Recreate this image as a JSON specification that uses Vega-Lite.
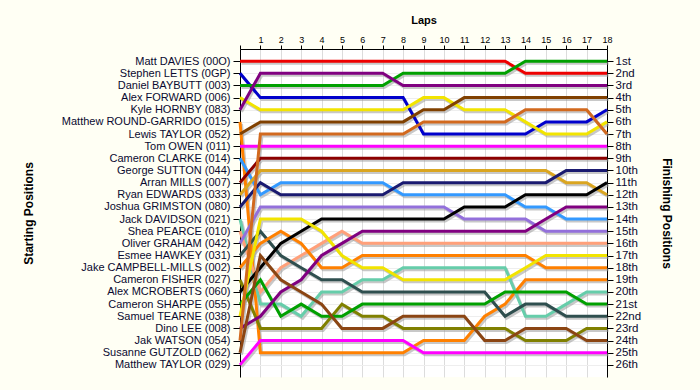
{
"$schema": "https://vega.github.io/schema/vega-lite/v6.json",
"width": 367, "height": 328,
"autosize": "none",
"padding": {"left": 240, "top": 49, "right": 93, "bottom": 13},
"background": "#fffff4",
"config": {"view": {"fill": "#ffffff", "stroke": null}, "font": "Liberation Sans"},
"data": {"values": [
{"start":1,"lap":0,"pos":1},{"start":1,"lap":1,"pos":1},{"start":1,"lap":2,"pos":1},{"start":1,"lap":3,"pos":1},{"start":1,"lap":4,"pos":1},{"start":1,"lap":5,"pos":1},{"start":1,"lap":6,"pos":1},{"start":1,"lap":7,"pos":1},{"start":1,"lap":8,"pos":1},{"start":1,"lap":9,"pos":1},{"start":1,"lap":10,"pos":1},{"start":1,"lap":11,"pos":1},{"start":1,"lap":12,"pos":1},{"start":1,"lap":13,"pos":1},{"start":1,"lap":14,"pos":2},{"start":1,"lap":15,"pos":2},{"start":1,"lap":16,"pos":2},{"start":1,"lap":17,"pos":2},{"start":1,"lap":18,"pos":2},
{"start":2,"lap":0,"pos":2},{"start":2,"lap":1,"pos":4},{"start":2,"lap":2,"pos":4},{"start":2,"lap":3,"pos":4},{"start":2,"lap":4,"pos":4},{"start":2,"lap":5,"pos":4},{"start":2,"lap":6,"pos":4},{"start":2,"lap":7,"pos":4},{"start":2,"lap":8,"pos":4},{"start":2,"lap":9,"pos":7},{"start":2,"lap":10,"pos":7},{"start":2,"lap":11,"pos":7},{"start":2,"lap":12,"pos":7},{"start":2,"lap":13,"pos":7},{"start":2,"lap":14,"pos":7},{"start":2,"lap":15,"pos":6},{"start":2,"lap":16,"pos":6},{"start":2,"lap":17,"pos":6},{"start":2,"lap":18,"pos":5},
{"start":3,"lap":0,"pos":3},{"start":3,"lap":1,"pos":3},{"start":3,"lap":2,"pos":3},{"start":3,"lap":3,"pos":3},{"start":3,"lap":4,"pos":3},{"start":3,"lap":5,"pos":3},{"start":3,"lap":6,"pos":3},{"start":3,"lap":7,"pos":3},{"start":3,"lap":8,"pos":2},{"start":3,"lap":9,"pos":2},{"start":3,"lap":10,"pos":2},{"start":3,"lap":11,"pos":2},{"start":3,"lap":12,"pos":2},{"start":3,"lap":13,"pos":2},{"start":3,"lap":14,"pos":1},{"start":3,"lap":15,"pos":1},{"start":3,"lap":16,"pos":1},{"start":3,"lap":17,"pos":1},{"start":3,"lap":18,"pos":1},
{"start":4,"lap":0,"pos":4},{"start":4,"lap":1,"pos":5},{"start":4,"lap":2,"pos":5},{"start":4,"lap":3,"pos":5},{"start":4,"lap":4,"pos":5},{"start":4,"lap":5,"pos":5},{"start":4,"lap":6,"pos":5},{"start":4,"lap":7,"pos":5},{"start":4,"lap":8,"pos":5},{"start":4,"lap":9,"pos":4},{"start":4,"lap":10,"pos":4},{"start":4,"lap":11,"pos":5},{"start":4,"lap":12,"pos":5},{"start":4,"lap":13,"pos":5},{"start":4,"lap":14,"pos":6},{"start":4,"lap":15,"pos":7},{"start":4,"lap":16,"pos":7},{"start":4,"lap":17,"pos":7},{"start":4,"lap":18,"pos":6},
{"start":5,"lap":0,"pos":5},{"start":5,"lap":1,"pos":2},{"start":5,"lap":2,"pos":2},{"start":5,"lap":3,"pos":2},{"start":5,"lap":4,"pos":2},{"start":5,"lap":5,"pos":2},{"start":5,"lap":6,"pos":2},{"start":5,"lap":7,"pos":2},{"start":5,"lap":8,"pos":3},{"start":5,"lap":9,"pos":3},{"start":5,"lap":10,"pos":3},{"start":5,"lap":11,"pos":3},{"start":5,"lap":12,"pos":3},{"start":5,"lap":13,"pos":3},{"start":5,"lap":14,"pos":3},{"start":5,"lap":15,"pos":3},{"start":5,"lap":16,"pos":3},{"start":5,"lap":17,"pos":3},{"start":5,"lap":18,"pos":3},
{"start":6,"lap":0,"pos":6},{"start":6,"lap":1,"pos":25},{"start":6,"lap":2,"pos":25},{"start":6,"lap":3,"pos":25},{"start":6,"lap":4,"pos":25},{"start":6,"lap":5,"pos":25},{"start":6,"lap":6,"pos":25},{"start":6,"lap":7,"pos":25},{"start":6,"lap":8,"pos":25},{"start":6,"lap":9,"pos":24},{"start":6,"lap":10,"pos":24},{"start":6,"lap":11,"pos":24},{"start":6,"lap":12,"pos":22},{"start":6,"lap":13,"pos":21},{"start":6,"lap":14,"pos":19},{"start":6,"lap":15,"pos":19},{"start":6,"lap":16,"pos":19},{"start":6,"lap":17,"pos":19},{"start":6,"lap":18,"pos":19},
{"start":7,"lap":0,"pos":7},{"start":7,"lap":1,"pos":6},{"start":7,"lap":2,"pos":6},{"start":7,"lap":3,"pos":6},{"start":7,"lap":4,"pos":6},{"start":7,"lap":5,"pos":6},{"start":7,"lap":6,"pos":6},{"start":7,"lap":7,"pos":6},{"start":7,"lap":8,"pos":6},{"start":7,"lap":9,"pos":5},{"start":7,"lap":10,"pos":5},{"start":7,"lap":11,"pos":4},{"start":7,"lap":12,"pos":4},{"start":7,"lap":13,"pos":4},{"start":7,"lap":14,"pos":4},{"start":7,"lap":15,"pos":4},{"start":7,"lap":16,"pos":4},{"start":7,"lap":17,"pos":4},{"start":7,"lap":18,"pos":4},
{"start":8,"lap":0,"pos":8},{"start":8,"lap":1,"pos":8},{"start":8,"lap":2,"pos":8},{"start":8,"lap":3,"pos":8},{"start":8,"lap":4,"pos":8},{"start":8,"lap":5,"pos":8},{"start":8,"lap":6,"pos":8},{"start":8,"lap":7,"pos":8},{"start":8,"lap":8,"pos":8},{"start":8,"lap":9,"pos":8},{"start":8,"lap":10,"pos":8},{"start":8,"lap":11,"pos":8},{"start":8,"lap":12,"pos":8},{"start":8,"lap":13,"pos":8},{"start":8,"lap":14,"pos":8},{"start":8,"lap":15,"pos":8},{"start":8,"lap":16,"pos":8},{"start":8,"lap":17,"pos":8},{"start":8,"lap":18,"pos":8},
{"start":9,"lap":0,"pos":9},{"start":9,"lap":1,"pos":12},{"start":9,"lap":2,"pos":11},{"start":9,"lap":3,"pos":11},{"start":9,"lap":4,"pos":11},{"start":9,"lap":5,"pos":11},{"start":9,"lap":6,"pos":11},{"start":9,"lap":7,"pos":11},{"start":9,"lap":8,"pos":12},{"start":9,"lap":9,"pos":12},{"start":9,"lap":10,"pos":12},{"start":9,"lap":11,"pos":12},{"start":9,"lap":12,"pos":12},{"start":9,"lap":13,"pos":12},{"start":9,"lap":14,"pos":13},{"start":9,"lap":15,"pos":13},{"start":9,"lap":16,"pos":14},{"start":9,"lap":17,"pos":14},{"start":9,"lap":18,"pos":14},
{"start":11,"lap":0,"pos":11},{"start":11,"lap":1,"pos":9},{"start":11,"lap":2,"pos":9},{"start":11,"lap":3,"pos":9},{"start":11,"lap":4,"pos":9},{"start":11,"lap":5,"pos":9},{"start":11,"lap":6,"pos":9},{"start":11,"lap":7,"pos":9},{"start":11,"lap":8,"pos":9},{"start":11,"lap":9,"pos":9},{"start":11,"lap":10,"pos":9},{"start":11,"lap":11,"pos":9},{"start":11,"lap":12,"pos":9},{"start":11,"lap":13,"pos":9},{"start":11,"lap":14,"pos":9},{"start":11,"lap":15,"pos":9},{"start":11,"lap":16,"pos":9},{"start":11,"lap":17,"pos":9},{"start":11,"lap":18,"pos":9},
{"start":12,"lap":0,"pos":12},{"start":12,"lap":1,"pos":10},{"start":12,"lap":2,"pos":10},{"start":12,"lap":3,"pos":10},{"start":12,"lap":4,"pos":10},{"start":12,"lap":5,"pos":10},{"start":12,"lap":6,"pos":10},{"start":12,"lap":7,"pos":10},{"start":12,"lap":8,"pos":10},{"start":12,"lap":9,"pos":10},{"start":12,"lap":10,"pos":10},{"start":12,"lap":11,"pos":10},{"start":12,"lap":12,"pos":10},{"start":12,"lap":13,"pos":10},{"start":12,"lap":14,"pos":10},{"start":12,"lap":15,"pos":10},{"start":12,"lap":16,"pos":11},{"start":12,"lap":17,"pos":11},{"start":12,"lap":18,"pos":12},
{"start":13,"lap":0,"pos":13},{"start":13,"lap":1,"pos":11},{"start":13,"lap":2,"pos":12},{"start":13,"lap":3,"pos":12},{"start":13,"lap":4,"pos":12},{"start":13,"lap":5,"pos":12},{"start":13,"lap":6,"pos":12},{"start":13,"lap":7,"pos":12},{"start":13,"lap":8,"pos":11},{"start":13,"lap":9,"pos":11},{"start":13,"lap":10,"pos":11},{"start":13,"lap":11,"pos":11},{"start":13,"lap":12,"pos":11},{"start":13,"lap":13,"pos":11},{"start":13,"lap":14,"pos":11},{"start":13,"lap":15,"pos":11},{"start":13,"lap":16,"pos":10},{"start":13,"lap":17,"pos":10},{"start":13,"lap":18,"pos":10},
{"start":14,"lap":0,"pos":14},{"start":14,"lap":1,"pos":21},{"start":14,"lap":2,"pos":21},{"start":14,"lap":3,"pos":22},{"start":14,"lap":4,"pos":20},{"start":14,"lap":5,"pos":20},{"start":14,"lap":6,"pos":19},{"start":14,"lap":7,"pos":19},{"start":14,"lap":8,"pos":18},{"start":14,"lap":9,"pos":18},{"start":14,"lap":10,"pos":18},{"start":14,"lap":11,"pos":18},{"start":14,"lap":12,"pos":18},{"start":14,"lap":13,"pos":18},{"start":14,"lap":14,"pos":22},{"start":14,"lap":15,"pos":22},{"start":14,"lap":16,"pos":21},{"start":14,"lap":17,"pos":20},{"start":14,"lap":18,"pos":20},
{"start":15,"lap":0,"pos":15},{"start":15,"lap":1,"pos":20},{"start":15,"lap":2,"pos":18},{"start":15,"lap":3,"pos":17},{"start":15,"lap":4,"pos":16},{"start":15,"lap":5,"pos":15},{"start":15,"lap":6,"pos":16},{"start":15,"lap":7,"pos":16},{"start":15,"lap":8,"pos":16},{"start":15,"lap":9,"pos":16},{"start":15,"lap":10,"pos":16},{"start":15,"lap":11,"pos":16},{"start":15,"lap":12,"pos":16},{"start":15,"lap":13,"pos":16},{"start":15,"lap":14,"pos":16},{"start":15,"lap":15,"pos":16},{"start":15,"lap":16,"pos":16},{"start":15,"lap":17,"pos":16},{"start":15,"lap":18,"pos":16},
{"start":16,"lap":0,"pos":16},{"start":16,"lap":1,"pos":13},{"start":16,"lap":2,"pos":13},{"start":16,"lap":3,"pos":13},{"start":16,"lap":4,"pos":13},{"start":16,"lap":5,"pos":13},{"start":16,"lap":6,"pos":13},{"start":16,"lap":7,"pos":13},{"start":16,"lap":8,"pos":13},{"start":16,"lap":9,"pos":13},{"start":16,"lap":10,"pos":13},{"start":16,"lap":11,"pos":14},{"start":16,"lap":12,"pos":14},{"start":16,"lap":13,"pos":14},{"start":16,"lap":14,"pos":14},{"start":16,"lap":15,"pos":15},{"start":16,"lap":16,"pos":15},{"start":16,"lap":17,"pos":15},{"start":16,"lap":18,"pos":15},
{"start":17,"lap":0,"pos":17},{"start":17,"lap":1,"pos":15},{"start":17,"lap":2,"pos":17},{"start":17,"lap":3,"pos":18},{"start":17,"lap":4,"pos":19},{"start":17,"lap":5,"pos":19},{"start":17,"lap":6,"pos":20},{"start":17,"lap":7,"pos":20},{"start":17,"lap":8,"pos":20},{"start":17,"lap":9,"pos":20},{"start":17,"lap":10,"pos":20},{"start":17,"lap":11,"pos":20},{"start":17,"lap":12,"pos":20},{"start":17,"lap":13,"pos":22},{"start":17,"lap":14,"pos":21},{"start":17,"lap":15,"pos":21},{"start":17,"lap":16,"pos":22},{"start":17,"lap":17,"pos":22},{"start":17,"lap":18,"pos":22},
{"start":18,"lap":0,"pos":18},{"start":18,"lap":1,"pos":16},{"start":18,"lap":2,"pos":15},{"start":18,"lap":3,"pos":16},{"start":18,"lap":4,"pos":18},{"start":18,"lap":5,"pos":18},{"start":18,"lap":6,"pos":17},{"start":18,"lap":7,"pos":17},{"start":18,"lap":8,"pos":17},{"start":18,"lap":9,"pos":17},{"start":18,"lap":10,"pos":17},{"start":18,"lap":11,"pos":17},{"start":18,"lap":12,"pos":17},{"start":18,"lap":13,"pos":17},{"start":18,"lap":14,"pos":17},{"start":18,"lap":15,"pos":18},{"start":18,"lap":16,"pos":18},{"start":18,"lap":17,"pos":18},{"start":18,"lap":18,"pos":18},
{"start":19,"lap":0,"pos":19},{"start":19,"lap":1,"pos":23},{"start":19,"lap":2,"pos":23},{"start":19,"lap":3,"pos":23},{"start":19,"lap":4,"pos":23},{"start":19,"lap":5,"pos":21},{"start":19,"lap":6,"pos":22},{"start":19,"lap":7,"pos":22},{"start":19,"lap":8,"pos":23},{"start":19,"lap":9,"pos":23},{"start":19,"lap":10,"pos":23},{"start":19,"lap":11,"pos":23},{"start":19,"lap":12,"pos":23},{"start":19,"lap":13,"pos":23},{"start":19,"lap":14,"pos":24},{"start":19,"lap":15,"pos":24},{"start":19,"lap":16,"pos":24},{"start":19,"lap":17,"pos":23},{"start":19,"lap":18,"pos":23},
{"start":20,"lap":0,"pos":20},{"start":20,"lap":1,"pos":18},{"start":20,"lap":2,"pos":16},{"start":20,"lap":3,"pos":15},{"start":20,"lap":4,"pos":14},{"start":20,"lap":5,"pos":14},{"start":20,"lap":6,"pos":14},{"start":20,"lap":7,"pos":14},{"start":20,"lap":8,"pos":14},{"start":20,"lap":9,"pos":14},{"start":20,"lap":10,"pos":14},{"start":20,"lap":11,"pos":13},{"start":20,"lap":12,"pos":13},{"start":20,"lap":13,"pos":13},{"start":20,"lap":14,"pos":12},{"start":20,"lap":15,"pos":12},{"start":20,"lap":16,"pos":12},{"start":20,"lap":17,"pos":12},{"start":20,"lap":18,"pos":11},
{"start":21,"lap":0,"pos":21},{"start":21,"lap":1,"pos":19},{"start":21,"lap":2,"pos":22},{"start":21,"lap":3,"pos":21},{"start":21,"lap":4,"pos":22},{"start":21,"lap":5,"pos":22},{"start":21,"lap":6,"pos":21},{"start":21,"lap":7,"pos":21},{"start":21,"lap":8,"pos":21},{"start":21,"lap":9,"pos":21},{"start":21,"lap":10,"pos":21},{"start":21,"lap":11,"pos":21},{"start":21,"lap":12,"pos":21},{"start":21,"lap":13,"pos":20},{"start":21,"lap":14,"pos":20},{"start":21,"lap":15,"pos":20},{"start":21,"lap":16,"pos":20},{"start":21,"lap":17,"pos":21},{"start":21,"lap":18,"pos":21},
{"start":22,"lap":0,"pos":22},{"start":22,"lap":1,"pos":14},{"start":22,"lap":2,"pos":14},{"start":22,"lap":3,"pos":14},{"start":22,"lap":4,"pos":15},{"start":22,"lap":5,"pos":17},{"start":22,"lap":6,"pos":18},{"start":22,"lap":7,"pos":18},{"start":22,"lap":8,"pos":19},{"start":22,"lap":9,"pos":19},{"start":22,"lap":10,"pos":19},{"start":22,"lap":11,"pos":19},{"start":22,"lap":12,"pos":19},{"start":22,"lap":13,"pos":19},{"start":22,"lap":14,"pos":18},{"start":22,"lap":15,"pos":17},{"start":22,"lap":16,"pos":17},{"start":22,"lap":17,"pos":17},{"start":22,"lap":18,"pos":17},
{"start":23,"lap":0,"pos":23},{"start":23,"lap":1,"pos":22},{"start":23,"lap":2,"pos":20},{"start":23,"lap":3,"pos":19},{"start":23,"lap":4,"pos":17},{"start":23,"lap":5,"pos":16},{"start":23,"lap":6,"pos":15},{"start":23,"lap":7,"pos":15},{"start":23,"lap":8,"pos":15},{"start":23,"lap":9,"pos":15},{"start":23,"lap":10,"pos":15},{"start":23,"lap":11,"pos":15},{"start":23,"lap":12,"pos":15},{"start":23,"lap":13,"pos":15},{"start":23,"lap":14,"pos":15},{"start":23,"lap":15,"pos":14},{"start":23,"lap":16,"pos":13},{"start":23,"lap":17,"pos":13},{"start":23,"lap":18,"pos":13},
{"start":24,"lap":0,"pos":24},{"start":24,"lap":1,"pos":7},{"start":24,"lap":2,"pos":7},{"start":24,"lap":3,"pos":7},{"start":24,"lap":4,"pos":7},{"start":24,"lap":5,"pos":7},{"start":24,"lap":6,"pos":7},{"start":24,"lap":7,"pos":7},{"start":24,"lap":8,"pos":7},{"start":24,"lap":9,"pos":6},{"start":24,"lap":10,"pos":6},{"start":24,"lap":11,"pos":6},{"start":24,"lap":12,"pos":6},{"start":24,"lap":13,"pos":6},{"start":24,"lap":14,"pos":5},{"start":24,"lap":15,"pos":5},{"start":24,"lap":16,"pos":5},{"start":24,"lap":17,"pos":5},{"start":24,"lap":18,"pos":7},
{"start":25,"lap":0,"pos":25},{"start":25,"lap":1,"pos":17},{"start":25,"lap":2,"pos":19},{"start":25,"lap":3,"pos":20},{"start":25,"lap":4,"pos":21},{"start":25,"lap":5,"pos":23},{"start":25,"lap":6,"pos":23},{"start":25,"lap":7,"pos":23},{"start":25,"lap":8,"pos":22},{"start":25,"lap":9,"pos":22},{"start":25,"lap":10,"pos":22},{"start":25,"lap":11,"pos":22},{"start":25,"lap":12,"pos":24},{"start":25,"lap":13,"pos":24},{"start":25,"lap":14,"pos":23},{"start":25,"lap":15,"pos":23},{"start":25,"lap":16,"pos":23},{"start":25,"lap":17,"pos":24},{"start":25,"lap":18,"pos":24},
{"start":26,"lap":0,"pos":26},{"start":26,"lap":1,"pos":24},{"start":26,"lap":2,"pos":24},{"start":26,"lap":3,"pos":24},{"start":26,"lap":4,"pos":24},{"start":26,"lap":5,"pos":24},{"start":26,"lap":6,"pos":24},{"start":26,"lap":7,"pos":24},{"start":26,"lap":8,"pos":24},{"start":26,"lap":9,"pos":25},{"start":26,"lap":10,"pos":25},{"start":26,"lap":11,"pos":25},{"start":26,"lap":12,"pos":25},{"start":26,"lap":13,"pos":25},{"start":26,"lap":14,"pos":25},{"start":26,"lap":15,"pos":25},{"start":26,"lap":16,"pos":25},{"start":26,"lap":17,"pos":25},{"start":26,"lap":18,"pos":25}
]},
"layer": [
{
"mark": {"type": "line", "color": "#9a9a9a", "opacity": 0.55, "strokeWidth": 3},
"encoding": {
"x": {"field": "lap", "type": "quantitative", "scale": {"domain": [-0.074, 17.926], "nice": false, "zero": false}, "axis": null},
"y": {"field": "pos", "type": "quantitative", "scale": {"domain": [-0.165, 26.835], "reverse": true, "nice": false, "zero": false}, "axis": null},
"detail": {"field": "start", "type": "nominal"},
"order": {"field": "lap"}
}
},
{
"mark": {"type": "line", "strokeWidth": 3},
"encoding": {
"x": {"field": "lap", "type": "quantitative", "scale": {"domain": [0, 18], "nice": false}, "axis": {"orient": "top", "values": [0,1,2,3,4,5,6,7,8,9,10,11,12,13,14,15,16,17,18], "labelExpr": "datum.value == 0 ? '' : datum.label", "title": "Laps", "titleFontWeight": "bold", "titleFontSize": 11, "titleColor": "#000000", "titleX": 183.5, "titleY": -29, "titleBaseline": "middle", "labelFontSize": 9, "labelColor": "#000000", "labelPadding": 1, "tickSize": 4, "tickColor": "#000000", "domainColor": "#000000", "grid": true, "gridColor": "#dcdcdc", "labelFlush": false}},
"y": {"field": "pos", "type": "quantitative", "scale": {"domain": [0, 27], "reverse": true, "nice": false, "zero": false}, "axis": {"orient": "left", "values": [1,2,3,4,5,6,7,8,9,10,11,12,13,14,15,16,17,18,19,20,21,22,23,24,25,26], "labelExpr": "['','Matt DAVIES (00O)','Stephen LETTS (0GP)','Daniel BAYBUTT (003)','Alex FORWARD (006)','Kyle HORNBY (083)','Matthew ROUND-GARRIDO (015)','Lewis TAYLOR (052)','Tom OWEN (011)','Cameron CLARKE (014)','George SUTTON (044)','Arran MILLS (007)','Ryan EDWARDS (033)','Joshua GRIMSTON (080)','Jack DAVIDSON (021)','Shea PEARCE (010)','Oliver GRAHAM (042)','Esmee HAWKEY (031)','Jake CAMPBELL-MILLS (002)','Cameron FISHER (027)','Alex MCROBERTS (060)','Cameron SHARPE (055)','Samuel TEARNE (038)','Dino LEE (008)','Jak WATSON (054)','Susanne GUTZOLD (062)','Matthew TAYLOR (029)'][datum.value]", "title": "Starting Positions", "titleFontWeight": "bold", "titleFontSize": 12, "titleColor": "#000000", "titleAngle": -90, "titleX": -212, "titleY": 164, "titleAlign": "center", "titleBaseline": "middle", "labelFontSize": 11, "labelColor": "#0a0a30", "labelPadding": 3, "tickSize": 7, "tickColor": "#000000", "domainColor": "#000000", "grid": true, "gridColor": "#eeeeee", "labelFlush": false, "labelOverlap": false}},
"color": {"field": "start", "type": "nominal", "legend": null, "scale": {"domain": [1,2,3,4,5,6,7,8,9,11,12,13,14,15,16,17,18,19,20,21,22,23,24,25,26], "range": ["#ee0000","#0000cc","#00a000","#f2e400","#800080","#ff8000","#804000","#ff00ff","#3399ff","#8b0000","#daa520","#1a1a70","#66cdaa","#ffa07a","#9370db","#2f4f4f","#ff8000","#808000","#000000","#00a000","#f2e400","#800080","#d2691e","#8b4513","#ff00ff"]}},
"order": {"field": "lap"}
}
},
{
"mark": {"type": "line", "opacity": 0},
"encoding": {
"x": {"field": "lap", "type": "quantitative", "scale": {"domain": [0, 18], "nice": false}, "axis": null},
"y": {"field": "pos", "type": "quantitative", "scale": {"domain": [0, 27], "reverse": true, "nice": false, "zero": false}, "axis": {"orient": "right", "values": [1,2,3,4,5,6,7,8,9,10,11,12,13,14,15,16,17,18,19,20,21,22,23,24,25,26], "labelExpr": "['','1st','2nd','3rd','4th','5th','6th','7th','8th','9th','10th','11th','12th','13th','14th','15th','16th','17th','18th','19th','20th','21st','22nd','23rd','24th','25th','26th'][datum.value]", "title": "Finishing Positions", "titleFontWeight": "bold", "titleFontSize": 12, "titleColor": "#000000", "titleAngle": 90, "titleX": 59, "titleY": 164, "titleAlign": "center", "titleBaseline": "middle", "labelFontSize": 11.5, "labelColor": "#0a0a30", "labelPadding": 2, "tickSize": 6, "tickColor": "#000000", "domainColor": "#000000", "grid": false, "labelFlush": false, "labelOverlap": false}},
"detail": {"field": "start", "type": "nominal"}
}
}
],
"resolve": {"scale": {"x": "independent", "y": "independent", "color": "independent"}, "axis": {"x": "independent", "y": "independent"}}
}
